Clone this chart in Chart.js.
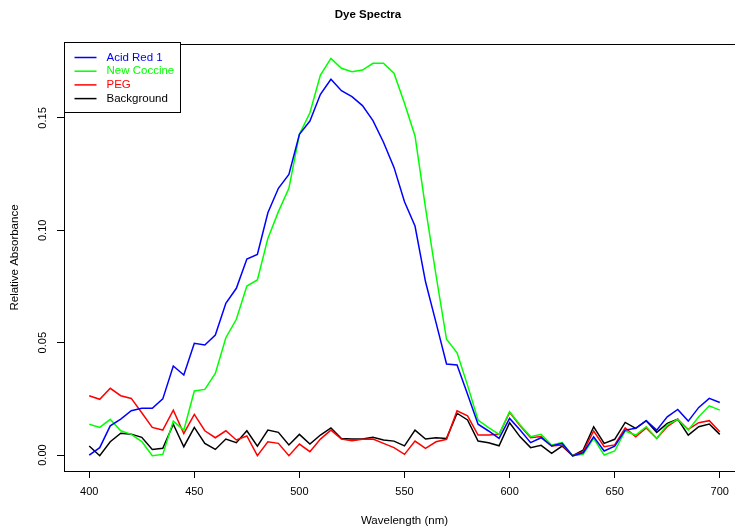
<!DOCTYPE html>
<html>
<head>
<meta charset="utf-8">
<script src="https://cdn.jsdelivr.net/npm/chart.js@4"></script>
<style>
  html, body { margin: 0; padding: 0; background: #fff; overflow: hidden; }
  #wrap { width: 735px; height: 531px; overflow: hidden; }
</style>
</head>
<body>
<div id="wrap"><canvas id="chart" width="760" height="531"></canvas></div>
<script>
// wavelengths 400..700 nm in 5 nm steps
const wavelengths = [400,405,410,415,420,425,430,435,440,445,450,455,460,465,470,475,480,485,490,495,
  500,505,510,515,520,525,530,535,540,545,550,555,560,565,570,575,580,585,590,595,
  600,605,610,615,620,625,630,635,640,645,650,655,660,665,670,675,680,685,690,695,700];

const acidRed1 = [0.000,0.0033,0.013,0.016,0.0197,0.0208,0.0208,0.025,0.0396,0.0356,
  0.0497,0.049,0.0534,0.0675,0.0742,0.0872,0.0893,0.1078,0.1187,0.1249,
  0.1427,0.1486,0.1605,0.1672,0.1621,0.1595,0.1555,0.1488,0.1392,0.128,
  0.1127,0.1019,0.0771,0.0589,0.0405,0.0401,0.027,0.0137,0.0107,0.0074,
  0.0163,0.0111,0.0055,0.0077,0.004,0.0052,-0.0004,0.001,0.0081,0.0018,
  0.004,0.0111,0.0119,0.0153,0.0111,0.017,0.0203,0.0151,0.0212,0.0252,0.0234];

const newCoccine = [0.0137,0.0123,0.0159,0.0108,0.0092,0.006,-0.0003,0.0003,0.0151,0.0111,
  0.0285,0.0292,0.0363,0.0522,0.0604,0.0752,0.0779,0.0964,0.1083,0.1187,
  0.1427,0.1523,0.1691,0.1765,0.1721,0.1706,0.1713,0.1743,0.1743,0.1699,
  0.1565,0.142,0.11,0.08,0.0515,0.0455,0.031,0.0156,0.0122,0.0092,
  0.0193,0.0134,0.0082,0.0092,0.0045,0.0055,-0.0003,0.0003,0.0074,0.0,
  0.0018,0.0107,0.0089,0.0126,0.0074,0.0134,0.0159,0.0111,0.017,0.0219,0.02];

const peg = [0.0264,0.0248,0.0297,0.0264,0.0252,0.0188,0.0123,0.0111,0.02,0.0096,
  0.0181,0.0108,0.0077,0.0108,0.0067,0.0085,-0.0003,0.0059,0.0052,-0.0003,
  0.0049,0.0015,0.0071,0.0111,0.0071,0.0064,0.007,0.0071,0.0052,0.0033,
  0.0003,0.0062,0.003,0.0059,0.007,0.0197,0.0174,0.0089,0.0089,0.0092,
  0.019,0.013,0.0077,0.0082,0.004,0.0045,-0.0003,0.0015,0.0107,0.0037,
  0.0045,0.0121,0.0081,0.0121,0.0074,0.0126,0.0159,0.0114,0.0144,0.0153,0.0104];

const background = [0.004,-0.0003,0.0059,0.0097,0.0093,0.0079,0.0025,0.003,0.0137,0.0037,
  0.0123,0.0052,0.0025,0.0071,0.0055,0.0108,0.004,0.0111,0.0101,0.0045,
  0.0092,0.0049,0.0089,0.0121,0.0074,0.0071,0.0071,0.0079,0.0067,0.0062,
  0.0041,0.0111,0.0071,0.0077,0.0074,0.0186,0.0156,0.0062,0.0055,0.0041,
  0.0144,0.0081,0.0033,0.0043,0.0008,0.004,-0.0003,0.0022,0.0126,0.0052,
  0.007,0.0145,0.0119,0.0153,0.0101,0.0141,0.016,0.0089,0.0126,0.0138,0.0092];

const xTicks = [400, 450, 500, 550, 600, 650, 700];
const yTicks = [0, 0.05, 0.10, 0.15];

const FONT = "'Liberation Sans', Arial, Helvetica, sans-serif";

function pts(ys) {
  return wavelengths.map((x, i) => ({ x: x, y: ys[i] }));
}

// R-style frame, y labels, titles and legend
const rStyle = {
  id: 'rStyle',
  afterDraw(chart) {
    const c = chart.ctx, a = chart.chartArea;
    c.save();
    c.strokeStyle = '#000';
    c.lineWidth = 1;
    c.strokeRect(Math.round(a.left) + 0.5, Math.round(a.top) + 0.5, a.right - a.left, a.bottom - a.top);

    // y tick labels, parallel to the axis
    const ys = chart.scales.y;
    c.fillStyle = '#000';
    c.font = '11px ' + FONT;
    c.textAlign = 'center';
    c.textBaseline = 'middle';
    yTicks.forEach(v => {
      const py = ys.getPixelForValue(v);
      c.save();
      c.translate(43, py);
      c.rotate(-Math.PI / 2);
      c.fillText(v.toFixed(2), 0, 0);
      c.restore();
    });

    // axis titles
    c.font = '11.5px ' + FONT;
    c.fillText('Wavelength (nm)', (a.left + a.right) / 2, 521);
    c.save();
    c.translate(15, (a.top + a.bottom) / 2);
    c.rotate(-Math.PI / 2);
    c.fillText('Relative Absorbance', 0, 0);
    c.restore();
    c.font = 'bold 11.5px ' + FONT;
    c.fillText('Dye Spectra', 368, 15);

    // legend
    const lx = Math.round(a.left) + 0.5, ly = Math.round(a.top) - 1.5;
    c.fillStyle = '#fff';
    c.fillRect(lx, ly, 116, 70);
    c.strokeStyle = '#000';
    c.lineWidth = 1;
    c.strokeRect(lx, ly, 116, 70);
    c.font = '11.5px ' + FONT;
    c.textAlign = 'left';
    chart.data.datasets.forEach((ds, i) => {
      const y = ly + 15 + i * 13.7;
      c.strokeStyle = ds.borderColor;
      c.lineWidth = 1.5;
      c.beginPath();
      c.moveTo(lx + 10, y);
      c.lineTo(lx + 32, y);
      c.stroke();
      c.fillStyle = ds.borderColor;
      c.fillText(ds.label, lx + 42, y);
    });
    c.restore();
  }
};

const ctx = document.getElementById('chart').getContext('2d');
const chart = new Chart(ctx, {
  type: 'line',
  data: {
    datasets: [
      { label: 'Acid Red 1', data: pts(acidRed1), borderColor: '#0000ff' },
      { label: 'New Coccine', data: pts(newCoccine), borderColor: '#00ff00' },
      { label: 'PEG', data: pts(peg), borderColor: '#ff0000' },
      { label: 'Background', data: pts(background), borderColor: '#000000' }
    ].map(d => Object.assign(d, { borderWidth: 1.5, pointRadius: 0, tension: 0, fill: false }))
  },
  options: {
    responsive: false,
    animation: false,
    layout: { padding: { left: 0, top: 44, right: 15, bottom: 0 } },
    plugins: { legend: { display: false }, title: { display: false }, tooltip: { enabled: false } },
    scales: {
      x: {
        type: 'linear',
        min: 388, max: 712,
        afterBuildTicks: s => { s.ticks = xTicks.map(v => ({ value: v })); },
        afterFit: s => { s.height = 60; },
        grid: { drawOnChartArea: false, drawTicks: true, tickLength: 7, color: '#000' },
        border: { display: true, color: '#000' },
        ticks: { color: '#000', font: { family: FONT, size: 11 }, padding: 7, maxRotation: 0 }
      },
      y: {
        min: -0.0071, max: 0.1829,
        afterBuildTicks: s => { s.ticks = yTicks.map(v => ({ value: v })); },
        afterFit: s => { s.width = 64; },
        grid: { drawOnChartArea: false, drawTicks: true, tickLength: 7, color: '#000' },
        border: { display: true, color: '#000' },
        ticks: { display: false }
      }
    }
  },
  plugins: [rStyle]
});
</script>
</body>
</html>
